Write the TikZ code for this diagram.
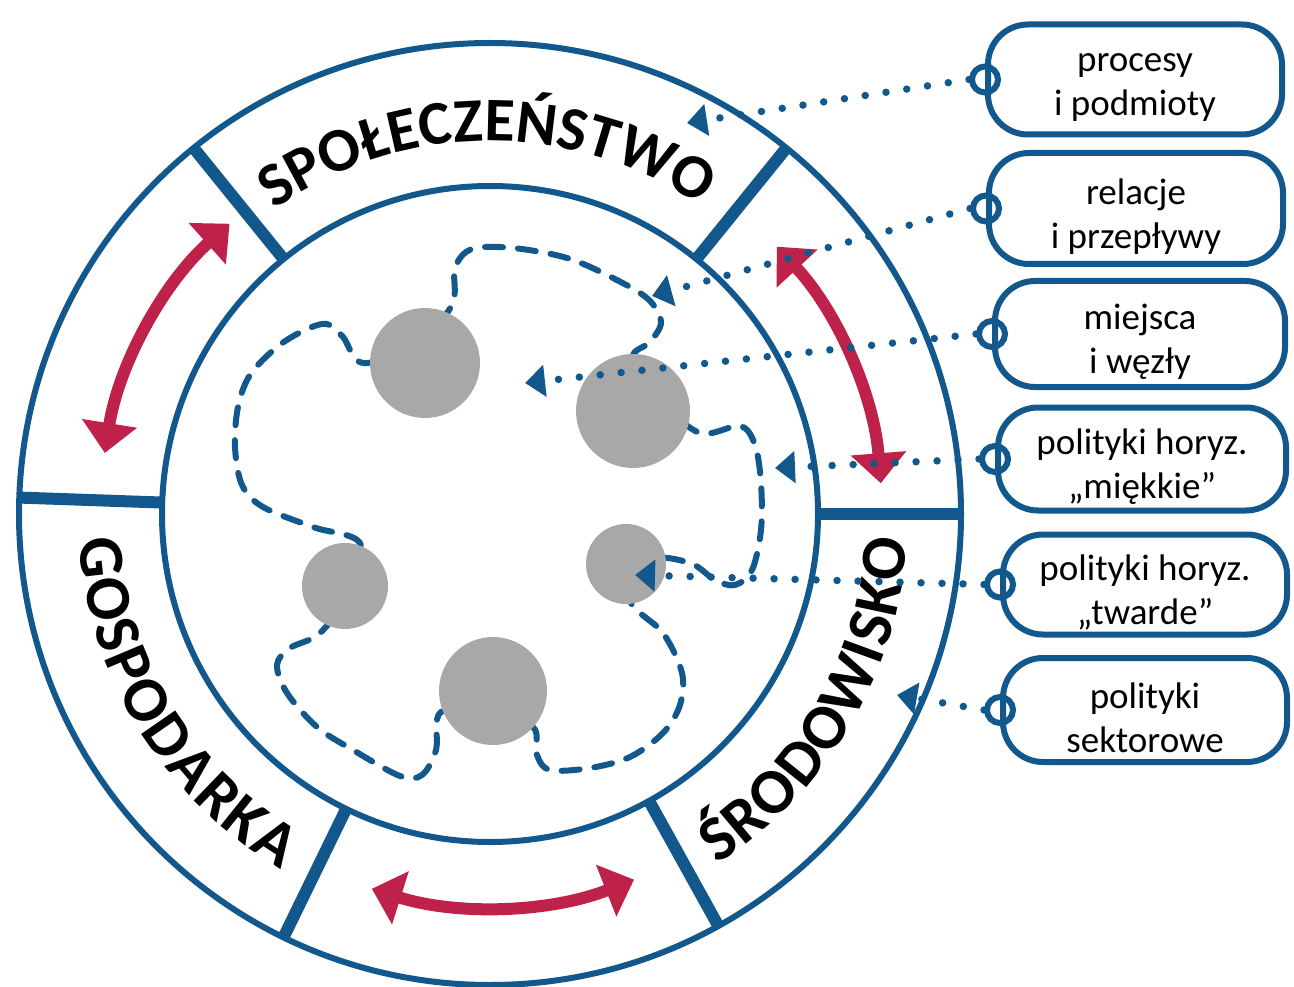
\documentclass[tikz,border=0pt]{standalone}
\usepackage{fontspec}
\setmainfont{Carlito}
\usetikzlibrary{arrows.meta,decorations.text}
\definecolor{ringblue}{RGB}{18,88,140}
\definecolor{arrred}{RGB}{190,33,74}
\definecolor{nodegray}{RGB}{168,168,168}
\newcommand{\ringfont}{\fontsize{64}{64}\selectfont\bfseries}
\newcommand{\topringfont}{\fontsize{62}{62}\selectfont\bfseries}
\newcommand{\boxfont}{\fontsize{37}{44}\selectfont}
\begin{document}
\begin{tikzpicture}[x=1pt,y=1pt,
  ring/.style={draw=ringblue,line width=6pt},
  divider/.style={draw=ringblue,line width=12pt},
  redarr/.style={draw=arrred,line width=12pt,{Triangle[length=30pt,width=54pt]}-{Triangle[length=30pt,width=54pt]}},
  dashcurve/.style={draw=ringblue,line width=6pt,line cap=round,dash pattern=on 18pt off 15pt},
  hub/.style={fill=nodegray},
  infobox/.style={draw=ringblue,line width=6pt,rounded corners=40pt,inner sep=0pt,fill=white},
  boxtext/.style={align=center,font=\boxfont,inner sep=0pt},
  ringlet/.style={circle,draw=ringblue,line width=6pt,minimum size=26pt,inner sep=0pt},
  dotline/.style={draw=ringblue,line width=7.5pt,line cap=round,dash pattern=on 0pt off 21pt,-{Triangle[length=20pt,width=31pt]}}
]
\useasboundingbox (0,0) rectangle (1294,-987);
\coordinate (C) at (490,-514);

% rings
\draw[ring] (C) circle[radius=471];
\draw[ring] (C) circle[radius=328];
\foreach \a in {51,129,178,244,299,0}
  \draw[divider] (C) ++(\a:328) -- ++(\a:143);

% ring labels
\path[decorate,decoration={text along path,text={|\topringfont|SPOŁECZEŃSTWO},text align=center}]
  (C) ++(130.5:373) arc[start angle=130.5,end angle=50.5,radius=373];
\path[decorate,decoration={text along path,text={|\ringfont|GOSPODARKA},text align=fit to path}]
  (C) ++(183.5:412) arc[start angle=183.5,end angle=239.5,radius=412];
\path[decorate,decoration={text along path,text={|\ringfont|ŚRODOWISKO},text align=fit to path}]
  (C) ++(-57:418) arc[start angle=-57,end angle=-3.5,radius=418];

% red double arrows
\draw[redarr] (C) ++(171:390) arc[start angle=171,end angle=131.9,radius=390];
\draw[redarr] (C) ++(43:392) arc[start angle=43,end angle=4.5,radius=392];
\draw[redarr] (C) ++(252.5:393) arc[start angle=252.5,end angle=291.5,radius=393];

% dashed closed curve
\draw[dashcurve] plot[smooth cycle,tension=0.55] coordinates {
 (363,-363) (415,-345) (452,-305) (455,-268) (472,-249) (513,-248) (567,-258)
 (613,-278) (648,-299) (661,-322) (650,-342) (633,-358) (660,-400) (700,-433)
 (740,-426) (755,-445) (761,-483) (761,-530) (752,-570) (735,-585) (715,-580)
 (690,-563) (650,-560) (630,-600) (663,-633) (682,-673) (680,-705) (663,-733)
 (630,-757) (590,-768) (550,-770) (537,-755) (533,-727) (490,-715) (441,-712)
 (436,-750) (422,-775) (400,-776) (353,-750) (317,-727) (287,-693) (277,-665)
 (290,-648) (320,-633) (352,-590) (360,-543) (313,-527) (263,-507) (242,-485)
 (235,-447) (238,-407) (250,-375) (277,-347) (305,-330) (327,-324) (343,-337)};

% gray hubs
\fill[hub] (425,-363) circle[radius=55];
\fill[hub] (633,-411) circle[radius=57];
\fill[hub] (345,-586) circle[radius=43];
\fill[hub] (626,-564) circle[radius=40];
\fill[hub] (493,-691) circle[radius=54];

% info boxes
\node[infobox,minimum width=294pt,minimum height=110pt] (b1) at (1135,-79.5) {};
\node[infobox,minimum width=294pt,minimum height=111pt] (b2) at (1136,-208.5) {};
\node[infobox,minimum width=290pt,minimum height=106pt] (b3) at (1140,-334) {};
\node[infobox,minimum width=288pt,minimum height=103pt] (b4) at (1142,-459) {};
\node[infobox,minimum width=284pt,minimum height=100pt] (b5) at (1145,-584.5) {};
\node[infobox,minimum width=284pt,minimum height=104pt] (b6) at (1145,-710) {};

\node[boxtext] (x1) at ([yshift=-8pt]b1.center) {procesy\\i podmioty};
\node[boxtext] (x2) at ([yshift=-8pt]b2.center) {relacje\\i przepływy};
\node[boxtext] (x3) at ([yshift=-8pt]b3.center) {miejsca\\i węzły};
\node[boxtext] (x4) at ([yshift=-8pt]b4.center) {polityki horyz.\\„miękkie”};
\node[boxtext] (x5) at ([yshift=-8pt]b5.center) {polityki horyz.\\„twarde”};
\node[boxtext] (x6) at ([yshift=-8pt]b6.center) {polityki\\sektorowe};

\foreach \i in {1,...,6} \node[ringlet] (k\i) at (b\i.west) {};

% targets
\coordinate (t1) at (687,-123);
\coordinate (t2) at (652,-296);
\coordinate (t3) at (525,-383);
\coordinate (t4) at (775,-468);
\coordinate (t5) at (635,-575);
\coordinate (t6) at (897,-695);

\foreach \i in {1,...,6} \draw[dotline] (k\i.west) -- (t\i);
\end{tikzpicture}
\end{document}
